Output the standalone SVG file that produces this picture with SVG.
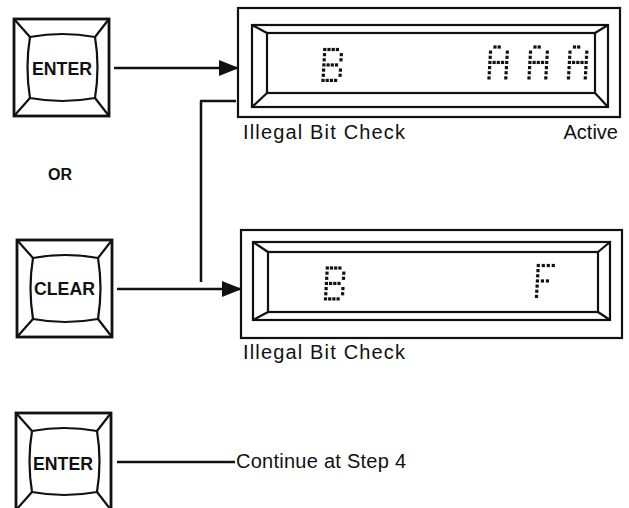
<svg xmlns="http://www.w3.org/2000/svg" xmlns:xlink="http://www.w3.org/1999/xlink" width="629" height="508" viewBox="0 0 629 508">
<style>
.ln{fill:none;stroke:#111;stroke-width:2.5;stroke-linejoin:round}
.ko{fill:none;stroke:#111;stroke-width:2.8}
.fr{fill:none;stroke:#111;stroke-width:2.2}
.kt{font-family:"Liberation Sans",Arial,sans-serif;font-weight:bold;font-size:18px;fill:#111;text-anchor:middle}
.lb{font-family:"Liberation Sans",Arial,sans-serif;font-size:20px;fill:#111}
.or{font-family:"Liberation Sans",Arial,sans-serif;font-weight:bold;font-size:16px;fill:#111}
.dot{fill:#111}
</style>
<defs>
<g id="key">
<rect x="0" y="0" width="95" height="97" class="ko"/>
<path d="M16,18 Q48,12 81,18 Q86,48 81,79 Q48,85 16,79 Q11,48 16,18 Z" class="fr"/>
<path d="M0,0 L16,18 M95,0 L81,18 M95,97 L81,79 M0,97 L16,79" class="fr"/>
</g>
<rect id="d" x="-1.6" y="-1.6" width="3.2" height="3.2" class="dot"/>
<g id="chB">
<use xlink:href="#d" x="1.8" y="0"/><use xlink:href="#d" x="6" y="0"/><use xlink:href="#d" x="10.2" y="0"/><use xlink:href="#d" x="14.4" y="0"/>
<use xlink:href="#d" x="1.5" y="5.15"/><use xlink:href="#d" x="18.3" y="5.15"/>
<use xlink:href="#d" x="1.2" y="10.3"/><use xlink:href="#d" x="18" y="10.3"/>
<use xlink:href="#d" x="0.9" y="15.45"/><use xlink:href="#d" x="5.1" y="15.45"/><use xlink:href="#d" x="9.3" y="15.45"/><use xlink:href="#d" x="13.5" y="15.45"/>
<use xlink:href="#d" x="0.6" y="20.6"/><use xlink:href="#d" x="17.4" y="20.6"/>
<use xlink:href="#d" x="0.3" y="25.75"/><use xlink:href="#d" x="17.1" y="25.75"/>
<use xlink:href="#d" x="0" y="30.9"/><use xlink:href="#d" x="4.2" y="30.9"/><use xlink:href="#d" x="8.4" y="30.9"/><use xlink:href="#d" x="12.6" y="30.9"/>
</g>
<g id="chA">
<use xlink:href="#d" x="6" y="0"/><use xlink:href="#d" x="10.2" y="0"/>
<use xlink:href="#d" x="1.5" y="5.15"/><use xlink:href="#d" x="18.3" y="5.15"/>
<use xlink:href="#d" x="1.2" y="10.3"/><use xlink:href="#d" x="18" y="10.3"/>
<use xlink:href="#d" x="0.9" y="15.45"/><use xlink:href="#d" x="5.1" y="15.45"/><use xlink:href="#d" x="9.3" y="15.45"/><use xlink:href="#d" x="13.5" y="15.45"/><use xlink:href="#d" x="17.7" y="15.45"/>
<use xlink:href="#d" x="0.6" y="20.6"/><use xlink:href="#d" x="17.4" y="20.6"/>
<use xlink:href="#d" x="0.3" y="25.75"/><use xlink:href="#d" x="17.1" y="25.75"/>
<use xlink:href="#d" x="0" y="30.9"/><use xlink:href="#d" x="16.8" y="30.9"/>
</g>
<g id="chF">
<use xlink:href="#d" x="1.8" y="0"/><use xlink:href="#d" x="6.8" y="0"/><use xlink:href="#d" x="11.8" y="0"/><use xlink:href="#d" x="16.8" y="0"/>
<use xlink:href="#d" x="1.5" y="5.15"/>
<use xlink:href="#d" x="1.2" y="10.3"/>
<use xlink:href="#d" x="0.9" y="15.45"/><use xlink:href="#d" x="5.9" y="15.45"/><use xlink:href="#d" x="10.9" y="15.45"/>
<use xlink:href="#d" x="0.6" y="20.6"/>
<use xlink:href="#d" x="0.3" y="25.75"/>
<use xlink:href="#d" x="0" y="30.9"/>
</g>
<marker id="ah" markerWidth="20" markerHeight="16" refX="19" refY="8" orient="auto" markerUnits="userSpaceOnUse">
<path d="M0,0 L20,8 L0,16 Z" fill="#111"/>
</marker>
</defs>
<rect width="629" height="508" fill="#fff"/>

<g id="key-enter-1">
<use xlink:href="#key" x="14" y="19"/>
<text class="kt" x="62" y="75" textLength="60" lengthAdjust="spacingAndGlyphs">ENTER</text>
</g>

<text id="or" class="or" x="48" y="180">OR</text>

<g id="key-clear">
<use xlink:href="#key" x="17" y="240"/>
<text class="kt" x="64.5" y="295" textLength="61" lengthAdjust="spacingAndGlyphs">CLEAR</text>
</g>

<g id="key-enter-2">
<use xlink:href="#key" x="16" y="413"/>
<text class="kt" x="63" y="470" textLength="60" lengthAdjust="spacingAndGlyphs">ENTER</text>
</g>

<g id="display-1">
<rect x="238" y="8" width="382" height="109" class="fr"/>
<rect x="252" y="25" width="356" height="82" class="fr"/>
<rect x="267" y="33" width="328" height="60" class="fr"/>
<path d="M252,25 L267,33 M608,25 L595,33 M608,107 L595,93 M252,107 L267,93" class="fr"/>
<use xlink:href="#chB" x="323" y="49.5"/>
<use xlink:href="#chA" x="489" y="47"/>
<use xlink:href="#chA" x="529" y="47"/>
<use xlink:href="#chA" x="568.5" y="47"/>
<text class="lb" x="243" y="139" textLength="162" lengthAdjust="spacing">Illegal Bit Check</text>
<text class="lb" x="618" y="139" text-anchor="end">Active</text>
</g>

<g id="display-2">
<rect x="241" y="230" width="381" height="108" class="fr"/>
<rect x="253" y="242" width="357" height="78" class="fr"/>
<rect x="268" y="252" width="330" height="60" class="fr"/>
<path d="M253,242 L268,252 M610,242 L598,252 M610,320 L598,312 M253,320 L268,312" class="fr"/>
<use xlink:href="#chB" x="325.5" y="268"/>
<use xlink:href="#chF" x="536.5" y="265.5"/>
<text class="lb" x="243" y="359" textLength="162" lengthAdjust="spacing">Illegal Bit Check</text>
</g>

<g id="connectors">
<line x1="114" y1="68" x2="238" y2="68" class="ln" marker-end="url(#ah)"/>
<line x1="117" y1="289" x2="241" y2="289" class="ln" marker-end="url(#ah)"/>
<polyline points="236,101 201,101 201,282" class="ln"/>
<line x1="117" y1="462" x2="235" y2="462" class="ln"/>
<text class="lb" x="236" y="468" textLength="170" lengthAdjust="spacing">Continue at Step 4</text>
</g>
</svg>
